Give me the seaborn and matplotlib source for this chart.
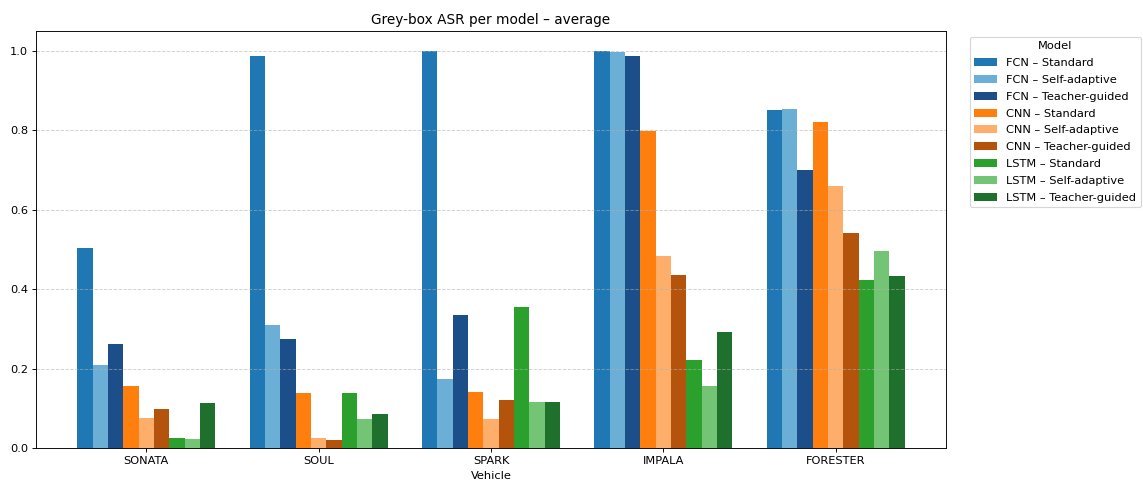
import matplotlib
matplotlib.use("Agg")
import matplotlib.pyplot as plt
import seaborn as sns
import pandas as pd

vehicles = ["SONATA", "SOUL", "SPARK", "IMPALA", "FORESTER"]
models = ["FCN – Standard", "FCN – Self-adaptive", "FCN – Teacher-guided",
          "CNN – Standard", "CNN – Self-adaptive", "CNN – Teacher-guided",
          "LSTM – Standard", "LSTM – Self-adaptive", "LSTM – Teacher-guided"]

fcn_standard = [0.504, 0.988, 1.000, 1.000, 0.850]
fcn_self = [0.209, 0.310, 0.174, 0.996, 0.853]
fcn_teacher = [0.262, 0.274, 0.335, 0.986, 0.701]
cnn_standard = [0.156, 0.139, 0.141, 0.799, 0.822]
cnn_self = [0.076, 0.025, 0.073, 0.484, 0.660]
cnn_teacher = [0.098, 0.020, 0.121, 0.436, 0.542]
lstm_standard = [0.025, 0.139, 0.355, 0.221, 0.423]
lstm_self = [0.023, 0.073, 0.116, 0.155, 0.496]
lstm_teacher = [0.113, 0.086, 0.116, 0.292, 0.433]

series = [fcn_standard, fcn_self, fcn_teacher, cnn_standard, cnn_self,
          cnn_teacher, lstm_standard, lstm_self, lstm_teacher]

colors = ["#1f77b4", "#6baed6", "#1c4f8a",
          "#ff7f0e", "#fdae6b", "#b4530b",
          "#2ca02c", "#74c476", "#1f6f2d"]

rows = []
for m, vals in zip(models, series):
    for v, val in zip(vehicles, vals):
        rows.append({"Vehicle": v, "Model": m, "ASR": val})
df = pd.DataFrame(rows)

dpi = 82
fig = plt.figure(figsize=(1143 / dpi, 485 / dpi), dpi=dpi)
ax = fig.add_axes([36 / 1143, 1 - 448 / 485, (946 - 36) / 1143, (448 - 31) / 485])

sns.barplot(data=df, x="Vehicle", y="ASR", hue="Model", order=vehicles,
            hue_order=models, palette=colors, width=0.8, saturation=1,
            errorbar=None, ax=ax)

ax.set_xlim(-0.64, 4.64)
ax.set_ylim(0, 1.05)
ax.grid(axis="y", linestyle="--", alpha=0.6)
ax.set_title("Grey-box ASR per model – average")
ax.set_xlabel("Vehicle")
ax.set_ylabel("")
ax.legend(title="Model", bbox_to_anchor=(1.02, 1), loc="upper left",
          labelspacing=0.6)

fig.savefig("out.png", dpi=dpi)
